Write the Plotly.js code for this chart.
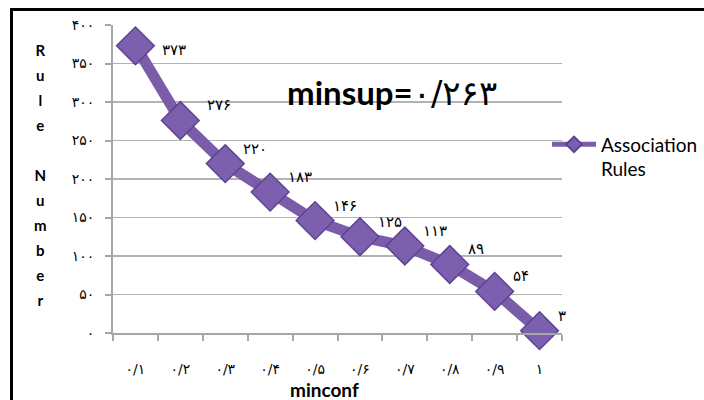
<!DOCTYPE html>
<html><head><meta charset="utf-8">
<script src="https://cdn.plot.ly/plotly-3.0.1.min.js"></script>
<style>
html,body{margin:0;padding:0;background:#fff;}
#wrap{position:relative;width:704px;height:400px;overflow:hidden;}
#chart{width:704px;height:400px;}
#frame{position:absolute;left:10px;top:8px;width:700px;height:400px;border:3px solid #000;pointer-events:none;}
</style></head>
<body><div id="wrap"><div id="chart"></div><div id="frame"></div></div>
<script>
const categories = ["۰/۱","۰/۲","۰/۳","۰/۴","۰/۵","۰/۶","۰/۷","۰/۸","۰/۹","۱"];
const ruleCounts = [373, 276, 220, 183, 146, 125, 113, 89, 54, 3];
const pointLabels = ["۳۷۳","۲۷۶","۲۲۰","۱۸۳","۱۴۶","۱۲۵","۱۱۳","۸۹","۵۴","۳"];
const yTickValues = [0, 50, 100, 150, 200, 250, 300, 350, 400];
const yTickLabels = ["۰","۵۰","۱۰۰","۱۵۰","۲۰۰","۲۵۰","۳۰۰","۳۵۰","۴۰۰"];
const seriesName = "Association<br>Rules";
const yTitleLetters = ["R","u","l","e","","N","u","m","b","e","r"];
const xTitle = "minconf";
const noteLatin = "minsup=";
const noteDigits = "۰/۲۶۳";

const purple = "#7b5ca8";
const digitFont = "DejaVu Sans";
const latin = "Lato, 'Open Sans', sans-serif";

const W = 704, H = 400, ML = 113, MR = 142, MT = 25, MB = 67;
const PW = W - ML - MR, PH = H - MT - MB;
const px2x = p => (p - ML) / PW;
const py2y = p => (H - MB - p) / PH;

const annotations = [];
ruleCounts.forEach((v, i) => {
  const first = i === 0, second = i === 1;
  annotations.push({x: categories[i], y: v, xref: "x", yref: "y", text: pointLabels[i],
    showarrow: false, xanchor: "left", yanchor: "middle",
    xshift: first || second ? 25 : 16, yshift: first ? -4 : 15,
    font: {family: digitFont, size: 15, color: "#000"}});
});
// vertical stacked axis title: line spacing from outer font size, glyphs smaller
const stacked = yTitleLetters.map(c => c ? '<span style="font-size:15px">' + c + '</span>' : ' ').join("<br>");
annotations.push({x: px2x(40), y: py2y(175), xref: "paper", yref: "paper",
  text: "<b>" + stacked + "</b>", showarrow: false, xanchor: "center", yanchor: "middle",
  font: {family: latin, size: 19.2, color: "#000"}});
annotations.push({x: px2x(392), y: py2y(93), xref: "paper", yref: "paper",
  text: "<b>" + noteLatin + "</b>" + '<span style="font-family:DejaVu Sans;font-size:34px">' + noteDigits + "</span>",
  showarrow: false, xanchor: "center", yanchor: "middle",
  font: {family: latin, size: 33, color: "#000"}});
annotations.push({x: px2x(324), y: py2y(389), xref: "paper", yref: "paper",
  text: "<b>" + xTitle + "</b>", showarrow: false, xanchor: "center", yanchor: "middle",
  font: {family: latin, size: 19, color: "#000"}});

const trace = {
  type: "scatter", mode: "lines+markers", x: categories, y: ruleCounts, name: seriesName,
  line: {color: purple, width: 11},
  marker: {symbol: "diamond", size: 29, color: "#7d5fb0", line: {color: "#5e4390", width: 1.5}},
  cliponaxis: false
};

const layout = {
  width: W, height: H,
  margin: {l: ML, r: MR, t: MT, b: MB, autoexpand: false},
  paper_bgcolor: "#fff", plot_bgcolor: "#fff",
  showlegend: true,
  legend: {x: px2x(547), y: py2y(157), xanchor: "left", yanchor: "middle", valign: "top",
    font: {family: latin, size: 19, color: "#000"}, bgcolor: "rgba(0,0,0,0)",
    itemwidth: 44, itemsizing: "constant"},
  xaxis: {
    type: "category", range: [-0.5, 9.5], showgrid: false, automargin: false,
    showline: true, linecolor: "#a6a6a6", linewidth: 2,
    ticks: "outside", tickson: "boundaries", ticklen: 6, tickcolor: "#a6a6a6", tickwidth: 2,
    ticklabelstandoff: 22,
    tickfont: {family: digitFont, size: 14, color: "#000"}
  },
  yaxis: {
    range: [0, 400], tickvals: yTickValues, ticktext: yTickLabels, automargin: false,
    showgrid: true, gridcolor: "#b3b3b3", gridwidth: 1.5, zeroline: false,
    showline: true, linecolor: "#a6a6a6", linewidth: 2,
    ticks: "outside", ticklen: 6, tickcolor: "#a6a6a6", tickwidth: 2,
    ticklabelstandoff: 8,
    tickfont: {family: digitFont, size: 14, color: "#000"}
  },
  annotations: annotations
};

Plotly.newPlot("chart", [trace], layout, {displayModeBar: false, staticPlot: true});
</script></body></html>
